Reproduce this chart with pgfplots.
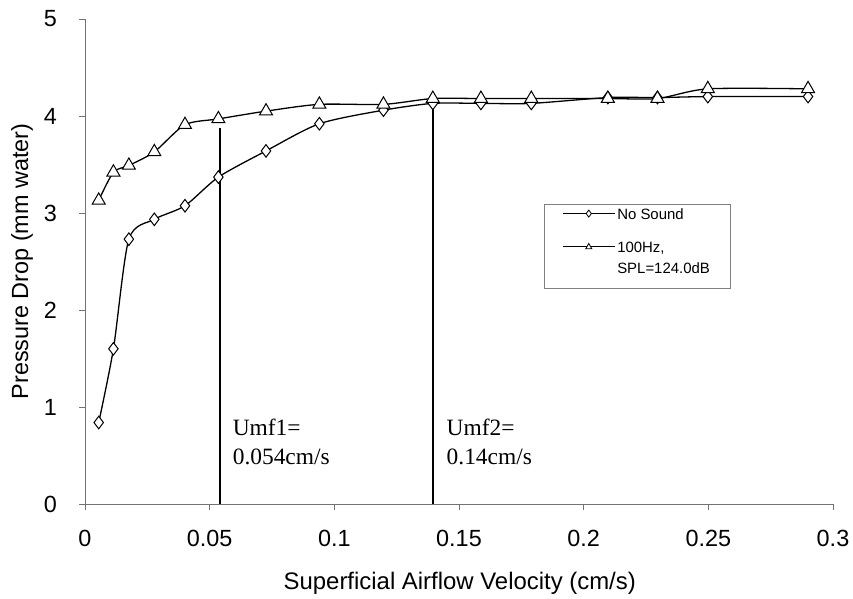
\documentclass[border=0pt]{standalone}
\usepackage{fontspec}
\setmainfont{Liberation Sans}
\newfontfamily\timesfont{Liberation Serif}
\usepackage{pgfplots}
\pgfplotsset{compat=1.18}
\pgfplotsset{myimg/.style={legend image code/.code={
   \draw[##1, mark=none, line width=1bp] (0bp,#1) -- (52bp,#1);
   \draw[##1, only marks, mark size=3.5bp, mark options={fill=white, line width=0.8bp}] plot coordinates {(26bp,#1)};}}}
\begin{document}
\begin{tikzpicture}
\path[use as bounding box] (-85bp,-95bp) rectangle (768bp,504bp);
\begin{axis}[
 at={(0bp,0bp)}, anchor=south west,
 scale only axis, width=748bp, height=485bp,
 xmin=0, xmax=0.3, ymin=0, ymax=5,
 axis x line*=bottom, axis y line*=left,
 axis line style={black!55, line width=0.7bp},
 xtick={0,0.05,0.1,0.15,0.2,0.25,0.3},
 xticklabels={0,0.05,0.1,0.15,0.2,0.25,0.3},
 ytick={0,1,2,3,4,5},
 tick align=outside, major tick length=6bp,
 tick style={black!55, line width=0.7bp},
 font=\fontsize{23.5}{28}\selectfont,
 /pgf/number format/assume math mode=true,
 xticklabel style={anchor=center, inner sep=0pt, yshift=-28bp},
 yticklabel style={anchor=east, inner sep=0pt, xshift=-22bp},
 xlabel={Superficial Airflow Velocity (cm/s)},
 xlabel style={at={(axis description cs:0.501,-0.163)}, anchor=center, font=\fontsize{24}{28}\selectfont},
 ylabel={Pressure Drop (mm water)},
 ylabel style={at={(axis description cs:-0.084,0.5)}, anchor=center},
 clip=false,
 legend style={at={(0.6136,0.6186)}, anchor=north west, draw=black!50, line width=0.6bp,
   font=\fontsize{15}{18}\selectfont, inner xsep=18bp, inner ysep=2bp, row sep=4.5bp,
   cells={anchor=base west}},
]
\addplot[black, line width=1.3bp, smooth, tension=0.45, mark=diamond*,
  mark options={fill=white, line width=1bp, solid}, mark size=6.3bp, myimg=5.5bp]
 coordinates {
 (0.0055,0.84) (0.0114,1.60) (0.0176,2.73) (0.0278,2.935) (0.0401,3.075)
 (0.0535,3.37) (0.0726,3.64) (0.094,3.92) (0.1197,4.06) (0.1395,4.13)
 (0.1588,4.13) (0.179,4.13) (0.2097,4.19) (0.2296,4.19) (0.2498,4.20) (0.290,4.20)
 };
\addlegendentry{No Sound}
\addlegendimage{empty legend}
\addlegendentry{\rule{0pt}{3bp}}
\addplot[black, line width=1.3bp, smooth, tension=0.45, mark=triangle*,
  mark options={fill=white, line width=1bp, solid}, mark size=7.5bp, myimg=5.5bp]
 coordinates {
 (0.0055,3.13) (0.0114,3.42) (0.0176,3.49) (0.0278,3.63) (0.0401,3.91)
 (0.0535,3.97) (0.0726,4.05) (0.094,4.12) (0.1197,4.12) (0.1395,4.18)
 (0.1588,4.18) (0.179,4.18) (0.2097,4.18) (0.2296,4.18) (0.2498,4.28) (0.290,4.28)
 };
\addlegendentry{100Hz,}
\addlegendimage{empty legend}
\addlegendentry{SPL=124.0dB}
\addlegendimage{empty legend}
\addlegendentry{\mbox{}}
\addplot[black, line width=2bp, forget plot] coordinates {(0.054,0) (0.054,3.88)};
\addplot[black, line width=2bp, forget plot] coordinates {(0.1395,0) (0.1395,4.13)};
\node[anchor=base west, inner sep=0pt, font=\timesfont\fontsize{23.5}{28}\selectfont] at (axis cs:0.0592,0.711) {Umf1=};
\node[anchor=base west, inner sep=0pt, font=\timesfont\fontsize{23.5}{28}\selectfont] at (axis cs:0.0592,0.412) {0.054cm/s};
\node[anchor=base west, inner sep=0pt, font=\timesfont\fontsize{23.5}{28}\selectfont] at (axis cs:0.145,0.711) {Umf2=};
\node[anchor=base west, inner sep=0pt, font=\timesfont\fontsize{23.5}{28}\selectfont] at (axis cs:0.145,0.412) {0.14cm/s};
\end{axis}
\end{tikzpicture}
\end{document}
